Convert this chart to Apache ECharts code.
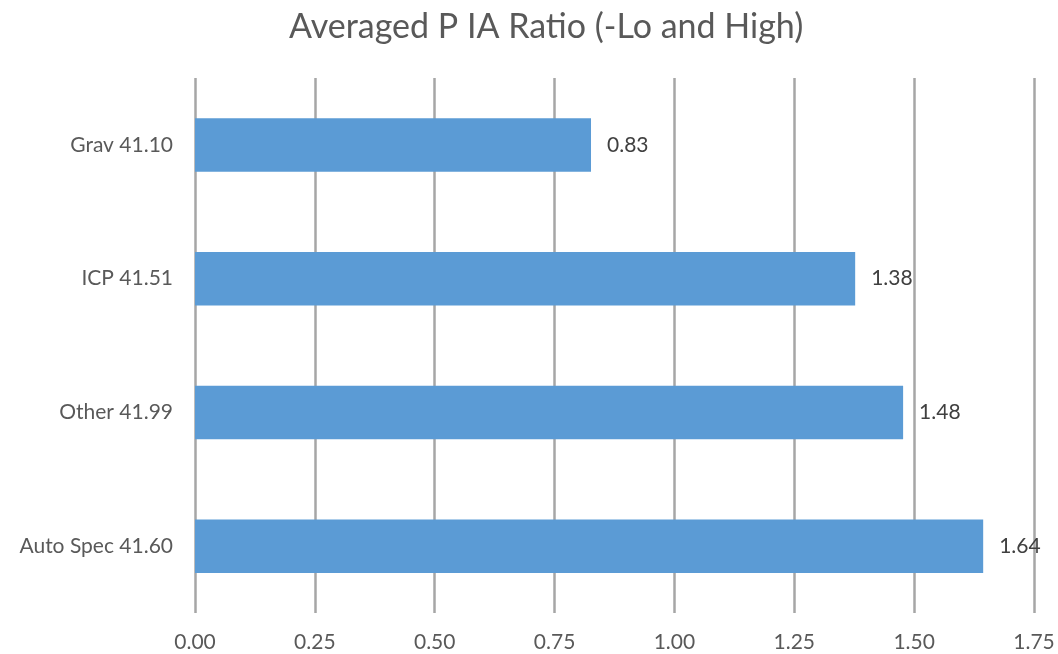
<!DOCTYPE html>
<html>
<head>
<meta charset="utf-8">
<script src="https://cdn.jsdelivr.net/npm/echarts@6/dist/echarts.min.js"></script>
<style>html,body{margin:0;padding:0;background:#fff}#c{width:1058px;height:654px}</style>
</head>
<body>
<div id="c"></div>
<script>
const categories = ['Auto Spec 41.60', 'Other 41.99', 'ICP 41.51', 'Grav 41.10'];
const values = [1.644, 1.477, 1.377, 0.826];
const xTicks = ['0.00','0.25','0.50','0.75','1.00','1.25','1.50','1.75'];

const chart = echarts.init(document.getElementById('c'));
chart.setOption({
  animation: false,
  backgroundColor: '#ffffff',
  title: {
    text: 'Averaged P IA Ratio (-Lo and High)',
    left: 284, top: 5,
    textStyle: { fontFamily: 'Lato', fontSize: 34, fontWeight: 'normal', color: '#595959' }
  },
  grid: { left: 195, right: 24, top: 78, bottom: 41, containLabel: false },
  xAxis: {
    type: 'value', min: 0, max: 1.75, interval: 0.25,
    axisLine: { show: false }, axisTick: { show: false },
    splitLine: { show: true, lineStyle: { color: '#a6a6a6', width: 2.5 } },
    axisLabel: {
      margin: 19, fontFamily: 'Lato', fontSize: 21, color: '#595959',
      formatter: v => xTicks[Math.round(v / 0.25)]
    }
  },
  yAxis: {
    type: 'category', data: categories,
    axisLine: { show: false }, axisTick: { show: false },
    axisLabel: { margin: 22, fontFamily: 'Lato', fontSize: 21, color: '#595959' }
  },
  series: [{
    type: 'bar', data: values, barCategoryGap: '60%',
    itemStyle: { color: '#5b9bd5' },
    label: {
      show: true, position: 'right', distance: 16,
      fontFamily: 'Lato', fontSize: 21, color: '#404040',
      formatter: p => p.value.toFixed(2)
    }
  }]
});
</script>
</body>
</html>
